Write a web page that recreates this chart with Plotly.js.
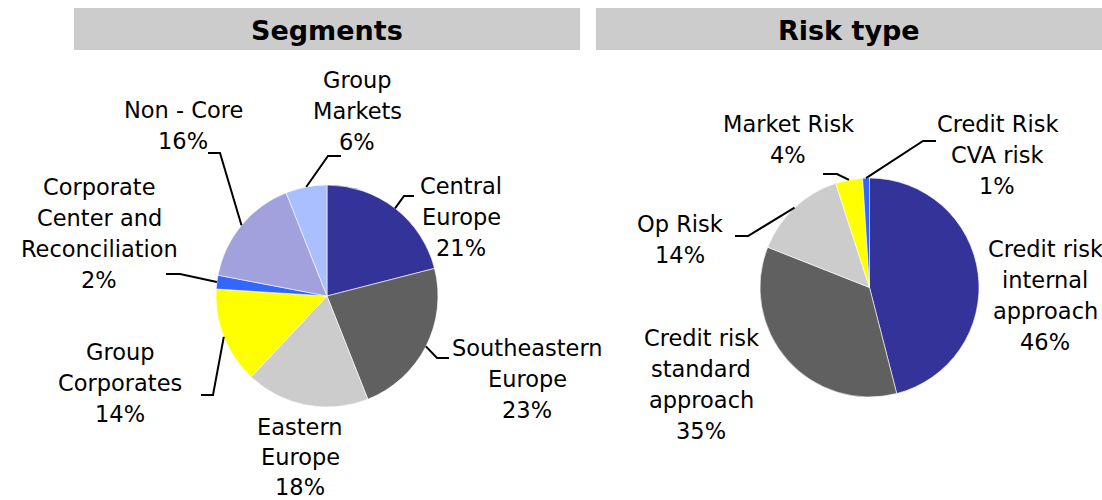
<!DOCTYPE html>
<html>
<head>
<meta charset="utf-8">
<script src="https://cdn.plot.ly/plotly-3.0.1.min.js"></script>
<style>html,body{margin:0;padding:0;background:#fff;}#chart{width:1102px;height:500px;}</style>
</head>
<body>
<div id="chart"></div>
<script>
// ---------- DATA ----------
const segLabels = ["Central Europe", "Southeastern Europe", "Eastern Europe", "Group Corporates", "Corporate Center and Reconciliation", "Non-Core", "Group Markets"];
const segValues = [21, 23, 18, 14, 2, 16, 6];
const segLabelLines = [["Central", "Europe"], ["Southeastern", "Europe"], ["Eastern", "Europe"], ["Group", "Corporates"], ["Corporate", "Center and", "Reconciliation"], ["Non - Core"], ["Group", "Markets"]];

const riskLabels = ["Credit risk internal approach", "Credit risk standard approach", "Op Risk", "Market Risk", "Credit Risk CVA risk"];
const riskValues = [46, 35, 14, 4, 1];
const riskLabelLines = [["Credit risk", "internal", "approach"], ["Credit risk", "standard", "approach"], ["Op Risk"], ["Market Risk"], ["Credit Risk", "CVA risk"]];

const panelTitles = ["Segments", "Risk type"];

// ---------- STYLE / LAYOUT ----------
const W = 1102, H = 500;
const segColors = ["#333399", "#606060", "#CCCCCC", "#FFFF00", "#3366FF", "#A1A1DD", "#AABFFF"];
const riskColors = ["#333399", "#606060", "#CCCCCC", "#FFFF00", "#3366FF"];
const FONT = "DejaVu Sans";
const LINE_H = 31;

// pie geometry in pixels
const segPie = {cx: 327, cy: 296, r: 111};
const riskPie = {cx: 869.5, cy: 287.5, r: 109.5};

// label placement (center x, first line center y, line height) in pixels
const segLabelPos = [[461, 186, 31], [527, 348, 31], [300, 427, 30], [120, 352, 31], [99, 187, 31], [183, 110, 31], [357, 80, 31]];
const riskLabelPos = [[1045, 249, 31], [701, 338, 31], [680, 224, 31], [788, 124, 31], [997, 124, 31]];
// leader elbows: [elbowX, elbowY, endX, endY] or null
const segLeaders = [[404, 196, 414, 196], [437, 358, 449, 358], null, [213, 395, 201, 395], [180, 274, 166, 274], [220, 153, 208, 153], [328, 156, 341, 156]];
const riskLeaders = [null, null, [748, 236, 735, 236], [837, 174, 823, 174], [923, 141, 936, 141]];

const px = x => x / W;
const py = y => 1 - y / H;

function domainOf(p) {
  return {x: [px(p.cx - p.r), px(p.cx + p.r)], y: [py(p.cy + p.r), py(p.cy - p.r)]};
}

function pieTrace(labels, values, colors, pie) {
  return {
    type: "pie", labels: labels, values: values, sort: false, direction: "clockwise", rotation: 0,
    marker: {colors: colors, line: {color: "#ffffff", width: 0.6}},
    textinfo: "none", hoverinfo: "label+percent", domain: domainOf(pie), showlegend: false
  };
}

const annotations = [];
const shapes = [];

function addLabels(values, lines, pos, leaders, pie) {
  const total = values.reduce((a, b) => a + b, 0);
  let cum = 0;
  values.forEach((v, i) => {
    const mid = (cum + v / 2) / total * 2 * Math.PI;
    cum += v;
    const allLines = lines[i].concat([Math.round(v / total * 100) + "%"]);
    allLines.forEach((t, k) => {
      annotations.push({
        xref: "paper", yref: "paper", x: px(pos[i][0]), y: py(pos[i][1] + k * pos[i][2]),
        xanchor: "center", yanchor: "middle", text: t, showarrow: false, borderpad: 0,
        font: {family: FONT, size: 22.5, color: "#000"}
      });
    });
    if (leaders[i]) {
      const sx = pie.cx + pie.r * Math.sin(mid);
      const sy = pie.cy - pie.r * Math.cos(mid);
      const L = leaders[i];
      shapes.push({
        type: "path", xref: "paper", yref: "paper",
        path: `M ${px(sx)} ${py(sy)} L ${px(L[0])} ${py(L[1])} L ${px(L[2])} ${py(L[3])}`,
        line: {color: "#000", width: 2}
      });
    }
  });
}

addLabels(segValues, segLabelLines, segLabelPos, segLeaders, segPie);
addLabels(riskValues, riskLabelLines, riskLabelPos, riskLeaders, riskPie);

// header bars
const bars = [[74, 580], [596, 1102]];
bars.forEach((b, i) => {
  shapes.push({type: "rect", xref: "paper", yref: "paper", x0: px(b[0]), x1: px(b[1]), y0: py(50), y1: py(8),
    fillcolor: "#CCCCCC", line: {width: 0}, layer: "below"});
  annotations.push({xref: "paper", yref: "paper", x: px((b[0] + b[1]) / 2), y: py(30), xanchor: "center", yanchor: "middle",
    text: "<b>" + panelTitles[i] + "</b>", showarrow: false, font: {family: FONT, size: 27, color: "#000"}});
});

const layout = {
  width: W, height: H, margin: {l: 0, r: 0, t: 0, b: 0},
  paper_bgcolor: "#ffffff", plot_bgcolor: "#ffffff",
  annotations: annotations, shapes: shapes, showlegend: false
};

Plotly.newPlot("chart", [pieTrace(segLabels, segValues, segColors, segPie), pieTrace(riskLabels, riskValues, riskColors, riskPie)], layout, {displayModeBar: false, staticPlot: true});
</script>
</body>
</html>
